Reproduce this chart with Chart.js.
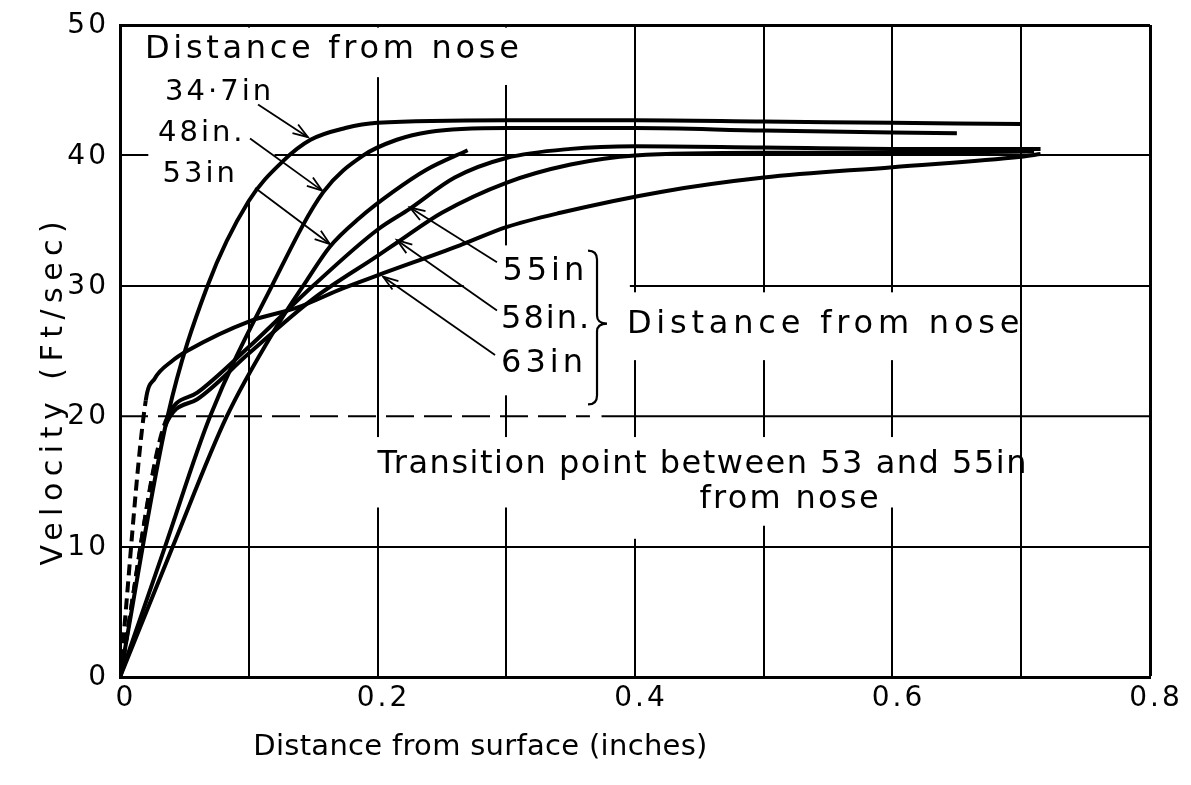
<!DOCTYPE html>
<html>
<head>
<meta charset="utf-8">
<script src="https://cdn.jsdelivr.net/npm/chart.js@4.4.0/dist/chart.umd.min.js"></script>
<style>
  html, body { margin: 0; padding: 0; background: #fff; }
  canvas { display: block; }
</style>
</head>
<body>
<canvas id="chart" width="1191" height="785"></canvas>
<script>
// velocity profiles (x = distance from surface in inches, v = ft/sec)
const x347 = [0, 0.037, 0.068, 0.1, 0.127, 0.148, 0.175, 0.2, 0.3, 0.4, 0.5, 0.6, 0.7];
const v347 = [0, 20, 30, 36.5, 39.6, 41.2, 42.1, 42.5, 42.7, 42.7, 42.6, 42.5, 42.4];

const x48 = [0, 0.035, 0.07, 0.118, 0.158, 0.189, 0.215, 0.24, 0.3, 0.4, 0.5, 0.65];
const v48 = [0, 10, 20, 30, 37.2, 40.0, 41.2, 41.8, 42.1, 42.1, 41.9, 41.7];

const x53 = [0, 0.041, 0.083, 0.12, 0.145, 0.163, 0.186, 0.212, 0.238, 0.27];
const v53 = [0, 10, 20, 26.6, 30.4, 33.0, 35.2, 37.2, 38.9, 40.4];

const x55 = [0, 0.035, 0.06, 0.1, 0.15, 0.2, 0.225, 0.26, 0.3, 0.35, 0.4, 0.5, 0.6, 0.715];
const v55 = [0, 19.5, 21.8, 25.3, 30.0, 34.3, 35.9, 38.3, 39.8, 40.5, 40.7, 40.6, 40.5, 40.5];

const x58 = [0, 0.035, 0.06, 0.1, 0.15, 0.2, 0.215, 0.25, 0.3, 0.35, 0.4, 0.5, 0.6, 0.71];
const v58 = [0, 19.2, 21.3, 24.8, 29.0, 32.3, 33.3, 35.6, 37.9, 39.3, 40.0, 40.2, 40.2, 40.3];

const x63 = [0, 0.02, 0.027, 0.04, 0.052, 0.101, 0.137, 0.173, 0.2, 0.264, 0.3, 0.342, 0.42, 0.5, 0.6, 0.7, 0.715];
const v63 = [0, 21.2, 22.9, 24.2, 25.0, 27.3, 28.3, 29.8, 30.8, 33.1, 34.5, 35.6, 37.2, 38.3, 39.1, 39.9, 40.1];

// how many leading segments of each profile are drawn dashed
const dashed347 = 0, dashed48 = 0, dashed53 = 0, dashed55 = 1, dashed58 = 1, dashed63 = 1;

const xTickValues = [0, 0.2, 0.4, 0.6, 0.8];
const xTickLabels = ['0', '0.2', '0.4', '0.6', '0.8'];
const yTickValues = [0, 10, 20, 30, 40, 50];
const yTickLabels = ['0', '10', '20', '30', '40', '50'];

const xTitle = 'Distance from surface (inches)';
const yTitle = 'Velocity (Ft/sec)';

const FONT = '"DejaVu Sans", "Liberation Sans", sans-serif';

function makeSet(name, xs, vs, nDashed) {
  return {
    label: name,
    data: xs.map((x, i) => ({ x: x, y: vs[i] })),
    borderColor: '#000',
    borderWidth: 4,
    pointRadius: 0,
    fill: false,
    cubicInterpolationMode: 'monotone',
    segment: {
      borderDash: c => (c.p0DataIndex < nDashed ? [11, 6] : undefined)
    }
  };
}

function drawText(ctx, str, x, y, size, spacing, align) {
  ctx.save();
  ctx.font = size + 'px ' + FONT;
  ctx.letterSpacing = spacing + 'px';
  ctx.textBaseline = 'middle';
  ctx.textAlign = align || 'left';
  ctx.fillStyle = '#000';
  ctx.fillText(str, x, y);
  ctx.restore();
}

function arrow(ctx, x1, y1, x2, y2) {
  ctx.beginPath();
  ctx.moveTo(x1, y1);
  ctx.lineTo(x2, y2);
  ctx.stroke();
  const a = Math.atan2(y2 - y1, x2 - x1);
  const len = 16, spread = 0.33;
  ctx.beginPath();
  ctx.moveTo(x2 - len * Math.cos(a - spread), y2 - len * Math.sin(a - spread));
  ctx.lineTo(x2, y2);
  ctx.lineTo(x2 - len * Math.cos(a + spread), y2 - len * Math.sin(a + spread));
  ctx.stroke();
}

// white patches where the lettering interrupts the grid (x0, x1, y0, y1 in data units)
const gaps = [
  [0.004, 0.318, 49.8, 46.0],
  [0.296, 0.307, 46.1, 45.4],
  [0.022, 0.12, 46.1, 36.6],
  [0.267, 0.396, 33.1, 21.6],
  [0.384, 0.697, 29.5, 24.3],
  [0.193, 0.697, 18.4, 13.0],
  [0.44, 0.59, 13.1, 11.6],
  [0.397, 0.407, 13.1, 10.6]
];

const sketch = {
  id: 'sketch',
  beforeDatasetsDraw(chart) {
    const ctx = chart.ctx, xs = chart.scales.x, ys = chart.scales.y;
    const X = v => xs.getPixelForValue(v), Y = v => ys.getPixelForValue(v);
    ctx.save();
    // the 20 ft/sec line is broken on the left
    ctx.strokeStyle = '#000';
    ctx.lineWidth = 2;
    ctx.setLineDash([28, 10]);
    ctx.beginPath();
    ctx.moveTo(X(0), Y(20));
    ctx.lineTo(X(0.365), Y(20));
    ctx.stroke();
    ctx.setLineDash([]);
    ctx.beginPath();
    ctx.moveTo(X(0.374), Y(20));
    ctx.lineTo(X(0.8), Y(20));
    ctx.stroke();
    ctx.fillStyle = '#fff';
    gaps.forEach(g => {
      ctx.fillRect(X(g[0]), Y(g[2]), X(g[1]) - X(g[0]), Y(g[3]) - Y(g[2]));
    });
    ctx.restore();
  },
  afterDatasetsDraw(chart) {
    const ctx = chart.ctx, xs = chart.scales.x, ys = chart.scales.y;
    const X = v => xs.getPixelForValue(v), Y = v => ys.getPixelForValue(v);
    const area = chart.chartArea;

    // tick labels
    yTickValues.forEach((v, i) => drawText(ctx, yTickLabels[i], area.left - 11, Y(v) + 1, 28, 3, 'right'));
    xTickValues.forEach((v, i) => drawText(ctx, xTickLabels[i], X(v) + 6, area.bottom + 22, 28, 3, 'center'));

    // axis titles
    drawText(ctx, xTitle, X(0.28), area.bottom + 70, 29, 0.3, 'center');
    ctx.save();
    ctx.translate(area.left - 66, Y(22));
    ctx.rotate(-Math.PI / 2);
    drawText(ctx, yTitle, 0, 0, 30, 6.5, 'center');
    ctx.restore();

    // annotations
    drawText(ctx, 'Distance from nose', X(0.0194), Y(48.1), 32, 3.7);
    drawText(ctx, '34·7in', X(0.035), Y(44.8), 29, 3);
    drawText(ctx, '48in.', X(0.0295), Y(41.7), 29, 3);
    drawText(ctx, '53in', X(0.033), Y(38.5), 29, 3);
    drawText(ctx, '55in', X(0.297), Y(31.1), 32, 4);
    drawText(ctx, '58in.', X(0.296), Y(27.4), 32, 2);
    drawText(ctx, '63in', X(0.296), Y(24.0), 32, 4);
    drawText(ctx, 'Distance from nose', X(0.3937), Y(27.0), 32, 4.8);
    drawText(ctx, 'Transition point between 53 and 55in', X(0.2), Y(16.3), 32, 1.5);
    drawText(ctx, 'from nose', X(0.45), Y(13.6), 32, 2.3);

    ctx.save();
    ctx.strokeStyle = '#000';
    ctx.lineWidth = 1.8;
    arrow(ctx, X(0.1072), Y(43.9), X(0.146), Y(41.4));
    arrow(ctx, X(0.101), Y(41.3), X(0.157), Y(37.3));
    arrow(ctx, X(0.105), Y(37.5), X(0.163), Y(33.2));
    arrow(ctx, X(0.2928), Y(31.8), X(0.2252), Y(36.0));
    arrow(ctx, X(0.2928), Y(28.1), X(0.2151), Y(33.5));
    arrow(ctx, X(0.2913), Y(24.7), X(0.2043), Y(30.7));

    // brace grouping 55, 58 and 63 in
    const bx = X(0.3705), bt = Y(32.7), bb = Y(20.9), bm = Y(27.1);
    ctx.lineWidth = 2.2;
    ctx.beginPath();
    ctx.moveTo(bx - 9, bt);
    ctx.quadraticCurveTo(bx, bt, bx, bt + 9);
    ctx.lineTo(bx, bm - 8);
    ctx.quadraticCurveTo(bx, bm, bx + 10, bm);
    ctx.quadraticCurveTo(bx, bm, bx, bm + 8);
    ctx.lineTo(bx, bb - 9);
    ctx.quadraticCurveTo(bx, bb, bx - 9, bb);
    ctx.stroke();
    ctx.restore();
  }
};

const gridWidth = (c, max) => (Math.abs(c.tick.value - max) < 1e-6 ? 3 : 2);

new Chart(document.getElementById('chart'), {
  type: 'line',
  data: {
    datasets: [
      makeSet('34.7 in', x347, v347, dashed347),
      makeSet('48 in', x48, v48, dashed48),
      makeSet('53 in', x53, v53, dashed53),
      makeSet('55 in', x55, v55, dashed55),
      makeSet('58 in', x58, v58, dashed58),
      makeSet('63 in', x63, v63, dashed63)
    ]
  },
  options: {
    responsive: false,
    animation: false,
    devicePixelRatio: 1,
    layout: { padding: { left: 120, right: 41, top: 25, bottom: 108 } },
    plugins: { legend: { display: false }, tooltip: { enabled: false } },
    scales: {
      x: {
        type: 'linear',
        min: 0,
        max: 0.8,
        ticks: { display: false, stepSize: 0.1 },
        grid: { color: '#000', lineWidth: c => gridWidth(c, 0.8), drawTicks: false },
        border: { color: '#000', width: 3 }
      },
      y: {
        type: 'linear',
        min: 0,
        max: 50,
        ticks: { display: false, stepSize: 10 },
        grid: {
          color: c => (c.tick.value === 20 ? 'rgba(0,0,0,0)' : '#000'),
          lineWidth: c => gridWidth(c, 50),
          drawTicks: false
        },
        border: { color: '#000', width: 3 }
      }
    }
  },
  plugins: [sketch]
});
</script>
</body>
</html>
